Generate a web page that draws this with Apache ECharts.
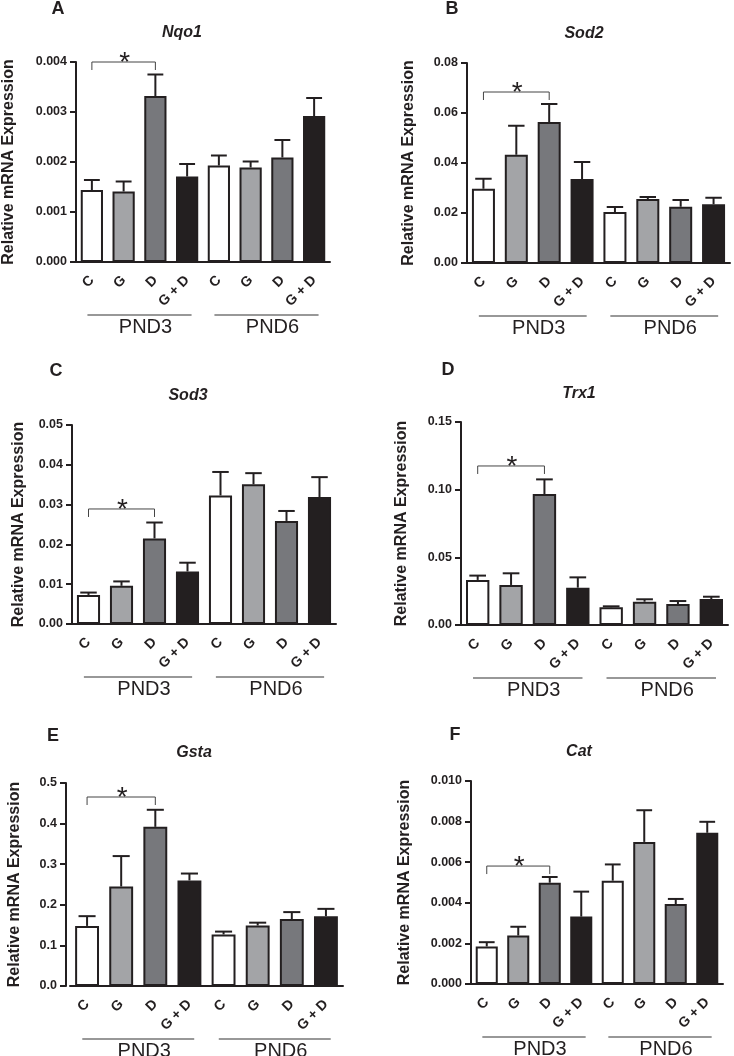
<!DOCTYPE html>
<html><head><meta charset="utf-8">
<script src="https://cdn.jsdelivr.net/npm/echarts@6/dist/echarts.min.js"></script>
<style>html,body{margin:0;padding:0;background:#fff}#c{width:734px;height:1056px}</style>
</head><body><div id="c"></div>
<script>
// ---- data ----
const categories = ['C', 'G', 'D', 'G + D', 'C', 'G', 'D', 'G + D'];
const groups = ['PND3', 'PND6'];
const groupRanges = [[0, 3, 0], [4, 7, 1]];
const yAxisTitle = 'Relative mRNA Expression';

const nqo1Mean = [0.00144, 0.00141, 0.00332, 0.00171, 0.00193, 0.00189, 0.00209, 0.00292];
const nqo1Sem  = [0.00020, 0.00020, 0.00043, 0.00025, 0.00020, 0.00012, 0.00035, 0.00036];
const sod2Mean = [0.0297, 0.0433, 0.0564, 0.0336, 0.0204, 0.0256, 0.0225, 0.0235];
const sod2Sem  = [0.0040, 0.0116, 0.0072, 0.0068, 0.0020, 0.0008, 0.0027, 0.0026];
const sod3Mean = [0.0073, 0.0096, 0.0215, 0.0132, 0.0323, 0.0351, 0.0259, 0.0319];
const sod3Sem  = [0.0006, 0.0011, 0.0040, 0.0022, 0.0059, 0.0028, 0.0025, 0.0050];
const trx1Mean = [0.0333, 0.0296, 0.0968, 0.0276, 0.0131, 0.0172, 0.0155, 0.0192];
const trx1Sem  = [0.0032, 0.0086, 0.0108, 0.0076, 0.0007, 0.0018, 0.0022, 0.0017];
const gstaMean = [0.148, 0.245, 0.392, 0.260, 0.127, 0.149, 0.165, 0.172];
const gstaSem  = [0.024, 0.075, 0.042, 0.017, 0.007, 0.007, 0.017, 0.018];
const catMean  = [0.00185, 0.00239, 0.00499, 0.00332, 0.00509, 0.00700, 0.00394, 0.00745];
const catSem   = [0.00021, 0.00043, 0.00028, 0.00123, 0.00080, 0.00156, 0.00025, 0.00054];

// significance brackets: [from category, to category, bracket level]
const nqo1Sig = [0, 2, 0.0040];
const sod2Sig = [0, 2, 0.0684];
const sod3Sig = [0, 2, 0.0289];
const trx1Sig = [0, 2, 0.1175];
const gstaSig = [0, 2, 0.4655];
const catSig  = [0, 2, 0.00581];

// axis ticks: [max, interval, decimals]
const nqo1Axis = [0.004, 0.001, 3];
const sod2Axis = [0.08, 0.02, 2];
const sod3Axis = [0.05, 0.01, 2];
const trx1Axis = [0.15, 0.05, 2];
const gstaAxis = [0.5, 0.1, 1];
const catAxis  = [0.010, 0.002, 3];

// ---- layout / style ----
const FONT = '"Liberation Sans", Arial, sans-serif';
const ink = '#231f20';
const fills = ['#ffffff', '#a3a4a7', '#77787c', '#231f20'];

const panels = [
  {letter:'A', gene:'Nqo1', mean:nqo1Mean, sem:nqo1Sem, sig:nqo1Sig, axis:nqo1Axis,
   grid:{left:72, top:62, width:258, height:200}, yOff:0, nameGap:59, letterPos:[58,9], genePos:[182,33]},
  {letter:'B', gene:'Sod2', mean:sod2Mean, sem:sod2Sem, sig:sod2Sig, axis:sod2Axis,
   grid:{left:467, top:63, width:263, height:200}, yOff:0, nameGap:50, letterPos:[452,9], genePos:[584,34]},
  {letter:'C', gene:'Sod3', mean:sod3Mean, sem:sod3Sem, sig:sod3Sig, axis:sod3Axis,
   grid:{left:72, top:425, width:264, height:199}, yOff:0, nameGap:45, letterPos:[56,371], genePos:[188,396]},
  {letter:'D', gene:'Trx1', mean:trx1Mean, sem:trx1Sem, sig:trx1Sig, axis:trx1Axis,
   grid:{left:461, top:422, width:267, height:203}, yOff:0, nameGap:51, letterPos:[448,370], genePos:[579,394]},
  {letter:'E', gene:'Gsta', mean:gstaMean, sem:gstaSem, sig:gstaSig, axis:gstaAxis,
   grid:{left:70, top:783, width:273, height:203}, yOff:4, nameGap:43, letterPos:[53,736], genePos:[194,753]},
  {letter:'F', gene:'Cat', mean:catMean, sem:catSem, sig:catSig, axis:catAxis,
   grid:{left:471, top:781, width:252, height:203}, yOff:0, nameGap:58, letterPos:[455,735], genePos:[579,752]}
];

function errorBar(params, api) {
  const x = api.value(0);
  const top = api.coord([x, api.value(1)]);
  const up = api.coord([x, api.value(2)]);
  const half = api.size([1, 0])[0] * 0.25;
  return {type:'group', children:[
    {type:'line', shape:{x1:top[0], y1:top[1], x2:up[0], y2:up[1]}, style:{stroke:ink, lineWidth:2}},
    {type:'line', shape:{x1:up[0]-half, y1:up[1], x2:up[0]+half, y2:up[1]}, style:{stroke:ink, lineWidth:2}}
  ]};
}
function bracket(params, api) {
  const y = api.value(2);
  const a = api.coord([api.value(0), y]);
  const b = api.coord([api.value(1), y]);
  const drop = 8;
  return {type:'group', children:[
    {type:'polyline', shape:{points:[[a[0], a[1]+drop], [a[0], a[1]], [b[0], b[1]], [b[0], b[1]+drop]]},
     style:{stroke:'#444', lineWidth:1, fill:null}},
    {type:'text', x:(a[0]+b[0])/2 + 1, y:a[1] + 1, style:{text:'*', font:'28px ' + FONT, fill:ink, align:'center', verticalAlign:'middle'}}
  ]};
}
function groupLabel(params, api) {
  const s = api.coord([api.value(0), 0]);
  const e = api.coord([api.value(1), 0]);
  const ext = api.size([1, 0])[0] * 0.14;
  const y = s[1] + 53;
  return {type:'group', children:[
    {type:'line', shape:{x1:s[0]-ext, y1:y, x2:e[0]+ext, y2:y}, style:{stroke:'#333', lineWidth:1.2}},
    {type:'text', x:(s[0]+e[0])/2 + 6, y:y + 2,
     style:{text:groups[api.value(2)], font:'20px ' + FONT, fill:ink, align:'center', verticalAlign:'top'}}
  ]};
}

const option = {animation:false, grid:[], xAxis:[], yAxis:[], series:[], graphic:[]};
panels.forEach((p, i) => {
  option.grid.push(Object.assign({containLabel:false}, p.grid));
  option.xAxis.push({
    type:'category', gridIndex:i, data:categories, boundaryGap:true,
    axisLine:{lineStyle:{color:ink, width:2}},
    axisTick:{alignWithLabel:true, length:6, lineStyle:{color:ink, width:2}},
    axisLabel:{interval:0, rotate:45, margin:16, color:ink, fontFamily:FONT, fontWeight:'bold', fontSize:14},
    splitLine:{show:false}
  });
  option.yAxis.push({
    type:'value', gridIndex:i, min:0, max:p.axis[0], interval:p.axis[1], offset:p.yOff,
    name:yAxisTitle, nameLocation:'middle', nameGap:p.nameGap,
    nameTextStyle:{color:ink, fontFamily:FONT, fontWeight:'bold', fontSize:16},
    axisLine:{show:true, lineStyle:{color:ink, width:2}},
    axisTick:{show:true, length:6, lineStyle:{color:ink, width:2}},
    axisLabel:{margin:9, color:ink, fontFamily:FONT, fontWeight:'bold', fontSize:12.5,
      formatter:(v) => v.toFixed(p.axis[2])},
    splitLine:{show:false}
  });
  option.series.push({
    type:'bar', xAxisIndex:i, yAxisIndex:i, barWidth:'70%',
    itemStyle:{borderColor:ink, borderWidth:2},
    data:p.mean.map((v, k) => ({value:v, itemStyle:{color:fills[k % 4]}}))
  });
  option.series.push({
    type:'custom', xAxisIndex:i, yAxisIndex:i, z:3, clip:false,
    encode:{x:0, y:[1, 2]},
    data:p.mean.map((v, k) => [k, v, v + p.sem[k]]),
    renderItem:errorBar
  });
  option.series.push({
    type:'custom', xAxisIndex:i, yAxisIndex:i, z:3, clip:false,
    encode:{x:[0, 1], y:2},
    data:[p.sig],
    renderItem:bracket
  });
  option.series.push({
    type:'custom', xAxisIndex:i, yAxisIndex:i, z:3, clip:false,
    encode:{x:[0, 1]},
    data:groupRanges,
    renderItem:groupLabel
  });
  option.graphic.push({type:'text', x:p.letterPos[0], y:p.letterPos[1],
    style:{text:p.letter, font:'bold 18px ' + FONT, fill:ink, align:'center', verticalAlign:'middle'}});
  option.graphic.push({type:'text', x:p.genePos[0], y:p.genePos[1],
    style:{text:p.gene, font:'italic bold 16px ' + FONT, fill:ink, align:'center', verticalAlign:'middle'}});
});

const chart = echarts.init(document.getElementById('c'), null, {renderer:'canvas'});
chart.setOption(option);
</script>
</body></html>
